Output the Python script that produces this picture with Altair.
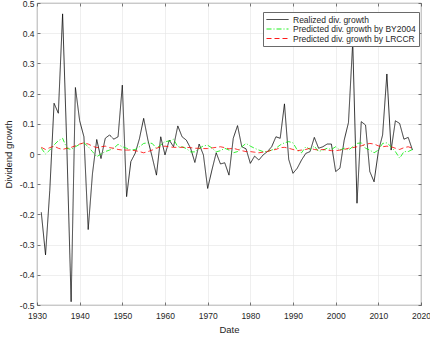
import altair as alt
import pandas as pd

# Annual dividend growth, 1931-2018
years = list(range(1931, 2019))

realized = [
    -0.193, -0.334, -0.120, 0.168, 0.135, 0.464, 0.020, -0.489, 0.220, 0.110,
    0.057, -0.250, -0.065, 0.048, -0.015, 0.052, 0.063, 0.049, 0.057, 0.228,
    -0.141, -0.025, 0.002, 0.050, 0.118, 0.046, -0.010, -0.070, 0.057, -0.003,
    0.046, 0.024, 0.093, 0.057, 0.046, 0.019, -0.028, 0.033, -0.003, -0.114,
    -0.053, 0.004, -0.033, -0.029, -0.070, 0.052, 0.094, 0.024, 0.017, -0.031,
    -0.007, -0.020, -0.003, 0.008, 0.024, 0.057, 0.052, 0.166, -0.018, -0.064,
    -0.047, -0.020, 0.002, 0.008, 0.055, 0.019, 0.024, 0.033, 0.033, -0.058,
    -0.047, 0.046, 0.104, 0.370, -0.163, 0.107, 0.096, -0.058, -0.092, 0.008,
    0.063, 0.265, 0.013, 0.110, 0.101, 0.049, 0.055, 0.013,
]

pred_by2004 = [
    0.019, 0.000, 0.013, 0.030, 0.044, 0.052, 0.019, 0.015, 0.024, 0.032,
    0.037, 0.024, 0.008, -0.009, 0.000, 0.008, 0.013, 0.019, 0.032, 0.024,
    0.019, 0.013, 0.015, 0.024, 0.035, 0.037, 0.035, 0.019, 0.030, 0.041,
    0.043, 0.049, 0.024, 0.024, 0.018, 0.007, 0.007, 0.018, 0.027, 0.029,
    0.020, 0.007, 0.011, 0.019, 0.013, 0.004, 0.008, 0.024, 0.035, 0.026,
    0.019, 0.013, 0.008, 0.008, 0.013, 0.019, 0.030, 0.037, 0.041, 0.037,
    0.013, 0.004, 0.024, 0.015, 0.026, 0.008, 0.013, 0.019, 0.015, 0.024,
    0.013, 0.019, 0.013, 0.024, 0.035, 0.037, 0.019, 0.013, 0.004, 0.013,
    0.035, 0.037, 0.024, 0.008, -0.014, 0.008, 0.008, 0.015,
]

pred_lrccr = [
    0.022, 0.015, 0.021, 0.026, 0.019, 0.015, 0.019, 0.022, 0.027, 0.033,
    0.037, 0.033, 0.026, 0.021, 0.024, 0.026, 0.021, 0.019, 0.015, 0.013,
    0.013, 0.013, 0.011, 0.008, 0.004, 0.008, 0.013, 0.019, 0.024, 0.026,
    0.024, 0.022, 0.022, 0.022, 0.022, 0.021, 0.019, 0.019, 0.018, 0.018,
    0.020, 0.022, 0.024, 0.021, 0.017, 0.019, 0.015, 0.011, 0.008, 0.008,
    0.006, 0.004, 0.006, 0.008, 0.013, 0.015, 0.021, 0.022, 0.019, 0.015,
    0.011, 0.013, 0.015, 0.019, 0.015, 0.013, 0.015, 0.013, 0.011, 0.011,
    0.013, 0.015, 0.019, 0.021, 0.024, 0.027, 0.032, 0.035, 0.033, 0.027,
    0.024, 0.026, 0.024, 0.019, 0.015, 0.021, 0.024, 0.019,
]

series_names = [
    "Realized div. growth",
    "Predicted div. growth by BY2004",
    "Predicted div. growth by LRCCR",
]
series_colors = ["#000000", "#00ee00", "#ff0000"]
series_dashes = [[1, 0], [5, 2, 1, 2], [5, 3]]

x_ticks = [1930, 1940, 1950, 1960, 1970, 1980, 1990, 2000, 2010, 2020]
y_ticks = [-0.5, -0.4, -0.3, -0.2, -0.1, 0.0, 0.1, 0.2, 0.3, 0.4, 0.5]

rows = []
for name, vals in zip(series_names, [realized, pred_by2004, pred_lrccr]):
    for yr, v in zip(years, vals):
        rows.append({"year": yr, "growth": v, "series": name})
df = pd.DataFrame(rows)

FONT = "Liberation Sans"
TXT = "#262626"
y_label_expr = "datum.value == 0 ? '0' : replace(format(datum.value, '.1f'), '\u2212', '-')"

x_scale = alt.Scale(domain=[1930, 2020], nice=False, zero=False)
y_scale = alt.Scale(domain=[-0.5, 0.5], nice=False)

lines = alt.Chart(df).mark_line(strokeWidth=0.8).encode(
    x=alt.X(
        "year:Q",
        scale=x_scale,
        axis=alt.Axis(
            values=x_ticks, format="d", title="Date", orient="bottom",
            offset=-3, tickSize=3, labelPadding=6, labelFlush=False,
            domain=False, grid=True, titlePadding=5,
        ),
    ),
    y=alt.Y(
        "growth:Q",
        scale=y_scale,
        axis=alt.Axis(
            values=y_ticks, labelExpr=y_label_expr, title="Dividend growth",
            orient="left", offset=-3, tickSize=3, labelPadding=3,
            labelFlush=False, domain=False, grid=True, titlePadding=6,
        ),
    ),
    color=alt.Color(
        "series:N",
        scale=alt.Scale(domain=series_names, range=series_colors),
        sort=series_names,
        title=None,
        legend=alt.Legend(orient="none", legendX=226, legendY=9),
    ),
    strokeDash=alt.StrokeDash(
        "series:N",
        scale=alt.Scale(domain=series_names, range=series_dashes),
        sort=series_names,
        legend=None,
    ),
)

# mirrored ticks on the top and right edges of the box
frame = alt.Chart(df).mark_line(opacity=0).encode(
    x=alt.X(
        "year:Q",
        scale=x_scale,
        axis=alt.Axis(
            values=x_ticks, orient="top", labels=False, offset=-3, tickSize=3,
            domain=False, grid=False, title="",
        ),
    ),
    y=alt.Y(
        "growth:Q",
        scale=y_scale,
        axis=alt.Axis(
            values=y_ticks, orient="right", labels=False, offset=-3, tickSize=3,
            domain=False, grid=False, title="",
        ),
    ),
    detail="series:N",
)

chart = (
    alt.layer(lines, frame)
    .resolve_axis(x="independent", y="independent")
    .properties(
        width=384,
        height=302,
        autosize=alt.AutoSizeParams(type="none"),
        padding={"left": 37, "top": 3, "right": 9, "bottom": 34},
        background="white",
    )
    .configure_view(stroke="#6a6a6a", strokeWidth=0.8)
    .configure_axis(
        labelFont=FONT, labelFontSize=8.5, labelColor=TXT,
        titleFont=FONT, titleFontSize=9.5, titleColor=TXT, titleFontWeight="normal",
        tickColor="#404040", tickWidth=0.7,
        gridColor="#e4e4e4", gridWidth=0.6,
    )
    .configure_legend(
        symbolType="stroke", symbolSize=484, symbolStrokeWidth=0.9,
        clipHeight=9,
        labelFont=FONT, labelFontSize=8.5, labelColor=TXT, labelOffset=4,
        labelLimit=300, padding=3, rowPadding=0.5, strokeColor="#6a6a6a",
        fillColor="white", cornerRadius=0,
    )
)

chart.save("out.html", embed_options={"renderer": "svg", "actions": False})
